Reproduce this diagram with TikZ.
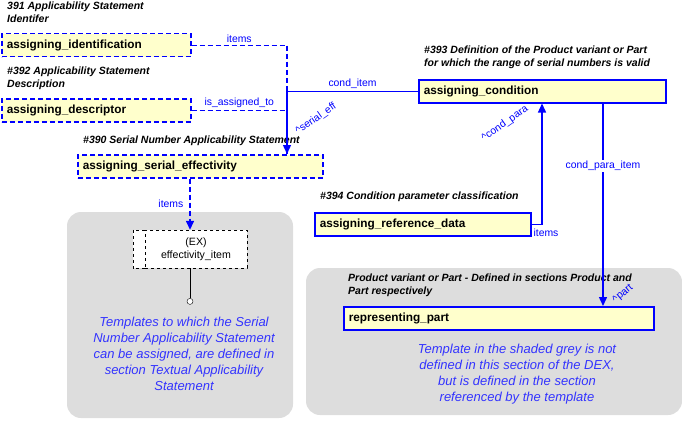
\documentclass[tikz,border=0pt]{standalone}
\usepackage{fontspec}
\setmainfont{Liberation Sans}
\usetikzlibrary{arrows.meta,positioning}
\definecolor{entfill}{RGB}{255,255,204}
\definecolor{shade}{RGB}{221,221,221}
\definecolor{notecol}{RGB}{51,51,255}

\begin{document}
\begin{tikzpicture}[x=1pt, y=-1pt, %
        ent/.style={draw=blue, line width=1.5pt, fill=entfill, anchor=north west,
          minimum height=23pt, inner xsep=5pt, align=left,
          font=\fontsize{11.8}{13}\selectfont\bfseries},
        extent/.style={ent, dash pattern=on 5pt off 3pt},
        ttl/.style={anchor=north west, inner sep=0pt, align=left,
          font=\fontsize{10.5}{13}\selectfont\bfseries\itshape},
        lbl/.style={text=blue, inner sep=1pt, font=\fontsize{10.4}{12}\selectfont},
        rel/.style={draw=blue, line width=1.4pt, -{Triangle[length=9pt,width=8pt]}},
        extrel/.style={draw=blue, line width=1.4pt, dash pattern=on 5pt off 3pt},
        note/.style={text=notecol, align=center, font=\fontsize{13}{16}\selectfont\itshape},
        greybox/.style={fill=shade, rounded corners=14pt}
        ]
        \useasboundingbox (0,0) rectangle (682,420);
        % shaded areas
        \fill[greybox] (67,212) rectangle (293,418);
        \fill[greybox] (306,268) rectangle (682,415);
        % entities
        \node[extent, text width=179pt] (ident) at (1,33) {assigning\_identification};
        \node[extent, text width=179pt] (desc) at (1,98) {assigning\_descriptor};
        \node[extent, text width=235pt] (serial) at (77,154) {assigning\_serial\_effectivity};
        \node[ent, text width=237pt] (cond) at (418,79) {assigning\_condition};
        \node[ent, text width=206pt] (refdata) at (314,212) {assigning\_reference\_data};
        \node[ent, text width=300pt] (part) at (343,306) {representing\_part};
        % titles
        \node[ttl] (tident) at (7,2) {391 Applicability Statement\\Identifer};
        \node[ttl] (tdesc) at (7,67) {\#392 Applicability Statement\\Description};
        \node[ttl] (tserial) at (83,136) {\#390 Serial Number Applicability Statement};
        \node[ttl] (tcond) at (424,46) {\#393 Definition of the Product variant or Part\\for which the range of serial numbers is valid};
        \node[ttl] (trefdata) at (320,192) {\#394 Condition parameter classification};
        \node[ttl] (tpart) at (348,274) {Product variant or Part - Defined in sections Product and\\Part respectively};
        % select type
        \node[draw, dashed, fill=white, minimum width=102pt, minimum height=38pt, align=center,
          font=\fontsize{10.6}{13}\selectfont] (item) at (196,249) {(EX)\\effectivity\_item};
        \draw[dashed, fill=white] (item.north west) -- ++(-12,0) |- (item.south west);
        \draw ([xshift=-6pt]item.south) -- ++(0,30) node[circle, draw, fill=white, inner sep=0pt,
          minimum size=6pt, anchor=north] (itemend) {};
        % relations
        \draw[extrel] (ident.east) -| ([xshift=210pt]serial.north west)
          node[lbl, pos=0.25, above=1pt] {items};
        \draw[extrel] (desc.east) -| ([xshift=210pt]serial.north west)
          node[lbl, pos=0.25, above=1pt] {is\_assigned\_to};
        \draw[rel] (cond.west) -| ([xshift=210pt]serial.north west)
          node[lbl, pos=0.25, above=1pt] {cond\_item}
          node[lbl, pos=0.72, xshift=29pt, rotate=35] {\textasciicircum serial\_eff};
        \draw[rel] (refdata.east) -| ([xshift=124pt]cond.south west)
          node[lbl, pos=0.5, below=3pt, xshift=4pt] {items}
          node[lbl, pos=0.917, xshift=-37pt, rotate=35] {\textasciicircum cond\_para};
        \draw[rel] ([xshift=185pt]cond.south west) -- ([xshift=260pt]part.north west)
          node[lbl, pos=0.31, fill=white] {cond\_para\_item}
          node[lbl, pos=0.94, xshift=20pt, rotate=40] {\textasciicircum part};
        \draw[rel, dash pattern=on 5pt off 3pt] ([xshift=113pt]serial.south west) -- ([xshift=-6pt]item.north)
          node[lbl, midway, left=5pt] {items};
        % notes
        \node[note] (noteleft) at (184,354) {Templates to which the Serial\\Number Applicability Statement\\can be assigned, are defined in\\section Textual Applicability\\Statement};
        \node[note] (noteright) at (517,374) {Template in the shaded grey is not\\defined in this section of the DEX,\\but is defined in the section\\referenced by the template};
      \end{tikzpicture}
\end{document}
